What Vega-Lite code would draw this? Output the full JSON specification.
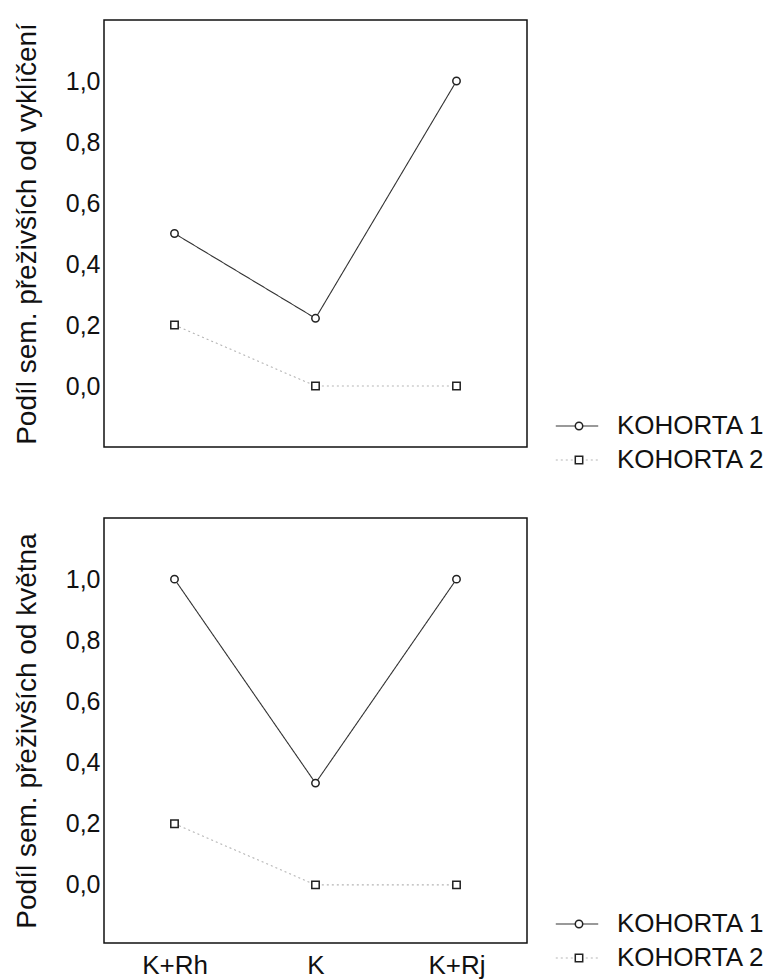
{
  "$schema": "https://vega.github.io/schema/vega-lite/v6.json",
  "padding": {"left": 12, "top": 19, "right": 0, "bottom": 0},
  "bounds": "flush",
  "spacing": 71,
  "config": {
    "font": "Liberation Sans",
    "view": {"stroke": "#111", "strokeWidth": 1.5},
    "axis": {
      "grid": false,
      "domain": false,
      "labelFont": "Liberation Sans",
      "titleFont": "Liberation Sans",
      "labelColor": "#111",
      "titleColor": "#111",
      "titleFontWeight": "normal"
    },
    "legend": {"padding": 0, "labelFont": "Liberation Sans", "labelColor": "#111"}
  },
  "datasets": {
    "preziti": [
      {"faze": "vyklíčení", "varianta": "K+Rh", "kohorta": "KOHORTA 1", "podil": 0.5},
      {"faze": "vyklíčení", "varianta": "K", "kohorta": "KOHORTA 1", "podil": 0.222},
      {"faze": "vyklíčení", "varianta": "K+Rj", "kohorta": "KOHORTA 1", "podil": 1.0},
      {"faze": "vyklíčení", "varianta": "K+Rh", "kohorta": "KOHORTA 2", "podil": 0.2},
      {"faze": "vyklíčení", "varianta": "K", "kohorta": "KOHORTA 2", "podil": 0.0},
      {"faze": "vyklíčení", "varianta": "K+Rj", "kohorta": "KOHORTA 2", "podil": 0.0},
      {"faze": "květen", "varianta": "K+Rh", "kohorta": "KOHORTA 1", "podil": 1.0},
      {"faze": "květen", "varianta": "K", "kohorta": "KOHORTA 1", "podil": 0.333},
      {"faze": "květen", "varianta": "K+Rj", "kohorta": "KOHORTA 1", "podil": 1.0},
      {"faze": "květen", "varianta": "K+Rh", "kohorta": "KOHORTA 2", "podil": 0.2},
      {"faze": "květen", "varianta": "K", "kohorta": "KOHORTA 2", "podil": 0.0},
      {"faze": "květen", "varianta": "K+Rj", "kohorta": "KOHORTA 2", "podil": 0.0}
    ]
  },
  "resolve": {
    "scale": {"x": "independent", "y": "independent", "color": "independent", "strokeDash": "independent", "shape": "independent"},
    "legend": {"color": "independent", "strokeDash": "independent", "shape": "independent"}
  },
  "vconcat": [
    {
      "width": 423,
      "height": 427,
      "data": {"name": "preziti"},
      "transform": [{"filter": "datum.faze == 'vyklíčení'"}],
      "encoding": {
        "x": {
          "field": "varianta", "type": "ordinal", "sort": ["K+Rh", "K", "K+Rj"],
          "scale": {"type": "point", "padding": 0.5},
          "axis": {"labels": false, "ticks": false, "title": null}
        },
        "y": {
          "field": "podil", "type": "quantitative",
          "scale": {"domain": [-0.2, 1.2], "nice": false, "zero": false},
          "axis": {
            "title": "Podíl sem. přeživších od vyklíčení",
            "values": [0, 0.2, 0.4, 0.6, 0.8, 1],
            "labelExpr": "replace(format(datum.value, '.1f'), '.', ',')",
            "ticks": false, "labelPadding": 4, "labelFontSize": 25,
            "titleFontSize": 28, "titlePadding": 24
          }
        }
      },
      "layer": [
        {
          "mark": {"type": "line", "strokeWidth": 1.1},
          "encoding": {
            "color": {
              "field": "kohorta", "type": "nominal",
              "scale": {"domain": ["KOHORTA 1", "KOHORTA 2"], "range": ["#333333", "#b5b5b5"]},
              "legend": {"orient": "none", "legendX": 460, "legendY": 393, "title": null, "symbolType": "M-3,0H3", "symbolSize": 200, "symbolStrokeWidth": 1.2, "labelFontSize": 26, "labelOffset": 27, "rowPadding": 8}
            },
            "strokeDash": {
              "field": "kohorta", "type": "nominal",
              "scale": {"domain": ["KOHORTA 1", "KOHORTA 2"], "range": [[1, 0], [2, 3]]},
              "legend": {"orient": "none", "legendX": 460, "legendY": 393, "title": null, "symbolType": "M-3,0H3", "symbolSize": 200, "symbolStrokeWidth": 1.2, "labelFontSize": 26, "labelOffset": 27, "rowPadding": 8}
            }
          }
        },
        {
          "mark": {"type": "point", "filled": true, "fill": "white", "stroke": "#222222", "strokeWidth": 1.5, "size": 55, "opacity": 1},
          "encoding": {
            "shape": {
              "field": "kohorta", "type": "nominal",
              "scale": {"range": ["circle", "square"]},
              "legend": {
                "orient": "none", "legendX": 462, "legendY": 393, "title": null,
                "symbolSize": 55, "labelFontSize": 26, "labelOffset": 24, "rowPadding": 8, "labelExpr": "''",
                "encode": {"symbols": {"update": {"fill": {"value": "white"}, "stroke": {"value": "#222222"}, "strokeWidth": {"value": 1.5}, "opacity": {"value": 1}}}}
              }
            }
          }
        }
      ]
    },
    {
      "width": 423,
      "height": 425,
      "data": {"name": "preziti"},
      "transform": [{"filter": "datum.faze == 'květen'"}],
      "encoding": {
        "x": {
          "field": "varianta", "type": "ordinal", "sort": ["K+Rh", "K", "K+Rj"],
          "scale": {"type": "point", "padding": 0.5},
          "axis": {"ticks": false, "title": null, "labelAngle": 0, "labelFontSize": 26, "labelPadding": 9}
        },
        "y": {
          "field": "podil", "type": "quantitative",
          "scale": {"domain": [-0.19, 1.2], "nice": false, "zero": false},
          "axis": {
            "title": "Podíl sem. přeživších od května",
            "values": [0, 0.2, 0.4, 0.6, 0.8, 1],
            "labelExpr": "replace(format(datum.value, '.1f'), '.', ',')",
            "ticks": false, "labelPadding": 4, "labelFontSize": 25,
            "titleFontSize": 28, "titlePadding": 24
          }
        }
      },
      "layer": [
        {
          "mark": {"type": "line", "strokeWidth": 1.1},
          "encoding": {
            "color": {
              "field": "kohorta", "type": "nominal",
              "scale": {"domain": ["KOHORTA 1", "KOHORTA 2"], "range": ["#333333", "#b5b5b5"]},
              "legend": {"orient": "none", "legendX": 460, "legendY": 393, "title": null, "symbolType": "M-3,0H3", "symbolSize": 200, "symbolStrokeWidth": 1.2, "labelFontSize": 26, "labelOffset": 27, "rowPadding": 8}
            },
            "strokeDash": {
              "field": "kohorta", "type": "nominal",
              "scale": {"domain": ["KOHORTA 1", "KOHORTA 2"], "range": [[1, 0], [2, 3]]},
              "legend": {"orient": "none", "legendX": 460, "legendY": 393, "title": null, "symbolType": "M-3,0H3", "symbolSize": 200, "symbolStrokeWidth": 1.2, "labelFontSize": 26, "labelOffset": 27, "rowPadding": 8}
            }
          }
        },
        {
          "mark": {"type": "point", "filled": true, "fill": "white", "stroke": "#222222", "strokeWidth": 1.5, "size": 55, "opacity": 1},
          "encoding": {
            "shape": {
              "field": "kohorta", "type": "nominal",
              "scale": {"range": ["circle", "square"]},
              "legend": {
                "orient": "none", "legendX": 462, "legendY": 393, "title": null,
                "symbolSize": 55, "labelFontSize": 26, "labelOffset": 24, "rowPadding": 8, "labelExpr": "''",
                "encode": {"symbols": {"update": {"fill": {"value": "white"}, "stroke": {"value": "#222222"}, "strokeWidth": {"value": 1.5}, "opacity": {"value": 1}}}}
              }
            }
          }
        }
      ]
    }
  ]
}
